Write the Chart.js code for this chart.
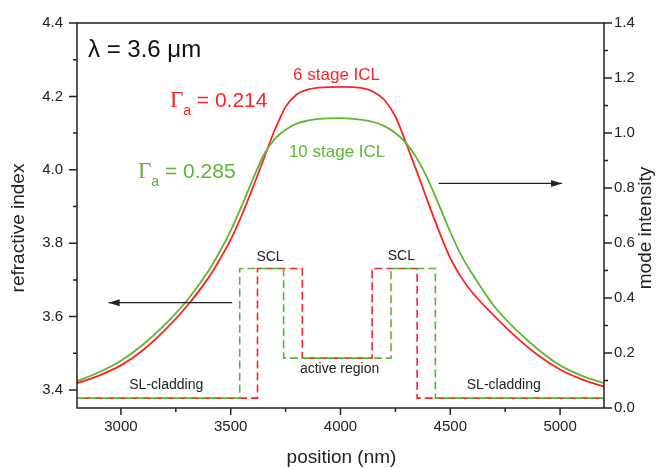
<!DOCTYPE html>
<html lang="en">
<head>
<meta charset="UTF-8"/>
<title>ICL mode profile</title>
<script src="https://cdn.jsdelivr.net/npm/chart.js"></script>
<style>
  html, body { margin: 0; padding: 0; background: #fff; }
  #wrap { width: 662px; height: 468px; }
</style>
</head>
<body>
<div id="wrap"><canvas id="chart" width="662" height="468"></canvas></div>
<script>
// mode intensity (right axis)
const positions = [2800, 2900, 3000, 3100, 3200, 3300, 3400, 3450, 3500, 3550, 3600, 3650, 3700, 3750,
  3800, 3850, 3900, 4000, 4100, 4150, 4200, 4250, 4300, 4350, 4400, 4450, 4500, 4550, 4600,
  4700, 4800, 4900, 5000, 5100, 5200];
const intensity6 = [0.090, 0.118, 0.155, 0.210, 0.283, 0.370, 0.475, 0.540, 0.612, 0.700, 0.800, 0.905, 1.010, 1.095,
  1.140, 1.158, 1.165, 1.168, 1.163, 1.150, 1.120, 1.060, 0.960, 0.855, 0.745, 0.640, 0.545, 0.475, 0.420,
  0.335, 0.258, 0.192, 0.140, 0.104, 0.078];
const intensity10 = [0.097, 0.130, 0.172, 0.230, 0.303, 0.390, 0.500, 0.568, 0.645, 0.735, 0.830, 0.920, 0.978, 1.012,
  1.034, 1.045, 1.051, 1.054, 1.048, 1.040, 1.025, 1.000, 0.962, 0.905, 0.828, 0.735, 0.640, 0.555, 0.488,
  0.370, 0.284, 0.213, 0.155, 0.117, 0.090];

// refractive index profiles (left axis)
const profile6X = [2800, 3622, 3622, 3826, 3826, 4144, 4144, 4349, 4349, 5200];
const profile6N = [3.378, 3.378, 3.731, 3.731, 3.487, 3.487, 3.731, 3.731, 3.378, 3.378];
const profile10X = [2800, 3541, 3541, 3741, 3741, 4230, 4230, 4432, 4432, 5200];
const profile10N = [3.378, 3.378, 3.731, 3.731, 3.487, 3.487, 3.731, 3.731, 3.378, 3.378];

// ticks
const xTicks = [3000, 3500, 4000, 4500, 5000];
const xMinor = [3250, 3750, 4250, 4750];
const nTicks = [3.4, 3.6, 3.8, 4.0, 4.2, 4.4];
const nMinor = [3.5, 3.7, 3.9, 4.1, 4.3];
const iTicks = [0, 0.2, 0.4, 0.6, 0.8, 1.0, 1.2, 1.4];
const iMinor = [0.1, 0.3, 0.5, 0.7, 0.9, 1.1, 1.3];

const RED = '#ff2222';
const GREEN = '#5db533';
const INK = '#222';
const SANS = '"Liberation Sans", Arial, sans-serif';

const pts = (xs, ys) => xs.map((x, i) => ({ x, y: ys[i] }));
const tickFont = { family: SANS, size: 15 };

const overlay = {
  id: 'overlay',
  afterDraw(chart) {
    const { ctx, chartArea: a } = chart;
    const sx = chart.scales.x, sn = chart.scales.y, si = chart.scales.y2;
    ctx.save();
    // frame
    ctx.strokeStyle = INK;
    ctx.lineWidth = 1.5;
    ctx.strokeRect(a.left, a.top, a.right - a.left, a.bottom - a.top);
    // ticks (outward)
    ctx.beginPath();
    const tick = (list, len, fn) => list.forEach(v => fn(v, len));
    const bottomTick = (v, len) => { const p = sx.getPixelForValue(v); ctx.moveTo(p, a.bottom); ctx.lineTo(p, a.bottom + len); };
    const leftTick = (v, len) => { const p = sn.getPixelForValue(v); ctx.moveTo(a.left, p); ctx.lineTo(a.left - len, p); };
    const rightTick = (v, len) => { const p = si.getPixelForValue(v); ctx.moveTo(a.right, p); ctx.lineTo(a.right + len, p); };
    tick(xTicks, 7, bottomTick); tick(xMinor, 4, bottomTick);
    tick(nTicks, 8, leftTick); tick(nMinor, 4, leftTick);
    tick(iTicks, 8, rightTick); tick(iMinor, 4, rightTick);
    ctx.stroke();

    // arrows
    const arrow = (x0, x1, y) => {
      ctx.beginPath();
      ctx.lineWidth = 1.3;
      ctx.moveTo(x0, y); ctx.lineTo(x1, y); ctx.stroke();
      const d = x1 > x0 ? 1 : -1;
      ctx.beginPath();
      ctx.moveTo(x1, y);
      ctx.lineTo(x1 - d * 11, y - 3.5);
      ctx.lineTo(x1 - d * 11, y + 3.5);
      ctx.closePath();
      ctx.fillStyle = INK;
      ctx.fill();
    };
    arrow(sx.getPixelForValue(3507), sx.getPixelForValue(2944), sn.getPixelForValue(3.638));
    arrow(sx.getPixelForValue(4447), sx.getPixelForValue(5009), si.getPixelForValue(0.8166));

    // labels
    const text = (s, xv, nv, size, color, align) => {
      ctx.font = size + 'px ' + SANS;
      ctx.fillStyle = color;
      ctx.textAlign = align || 'left';
      ctx.textBaseline = 'alphabetic';
      ctx.fillText(s, sx.getPixelForValue(xv), sn.getPixelForValue(nv));
    };
    text('λ = 3.6 μm', 2850, 4.3076, 24, '#111');
    text('6 stage ICL', 3784, 4.245, 17, RED);
    text('10 stage ICL', 3765, 4.034, 17, GREEN);
    text('SCL', 3679, 3.7505, 14, INK, 'center');
    text('SCL', 4277, 3.753, 14, INK, 'center');
    text('SL-cladding', 3038, 3.402, 14, INK);
    text('SL-cladding', 4575, 3.403, 14, INK);
    text('active region', 3815, 3.4454, 14, INK);

    const gamma = (val, xv, nv, color) => {
      let x = sx.getPixelForValue(xv);
      const y = sn.getPixelForValue(nv);
      ctx.fillStyle = color;
      ctx.textAlign = 'left';
      ctx.textBaseline = 'alphabetic';
      ctx.font = '23px "Liberation Serif", "Times New Roman", serif';
      ctx.fillText('Γ', x, y);
      x += ctx.measureText('Γ').width;
      ctx.font = '14px ' + SANS;
      ctx.fillText('a', x, y + 8);
      x += ctx.measureText('a').width;
      ctx.font = '21px ' + SANS;
      ctx.fillText(' = ' + val, x, y);
    };
    gamma('0.214', 3223, 4.172, RED);
    gamma('0.285', 3078, 3.979, GREEN);

    // axis titles
    ctx.fillStyle = INK;
    ctx.font = '19px ' + SANS;
    ctx.textAlign = 'center';
    ctx.textBaseline = 'alphabetic';
    ctx.fillText('position (nm)', (a.left + a.right) / 2 + 1, 463);
    ctx.textBaseline = 'middle';
    ctx.translate(19, 228);
    ctx.rotate(-Math.PI / 2);
    ctx.fillText('refractive index', 0, 0);
    ctx.setTransform(1, 0, 0, 1, 0, 0);
    ctx.translate(646, 228);
    ctx.rotate(-Math.PI / 2);
    ctx.fillText('mode intensity', 0, 0);
    ctx.restore();
  }
};

new Chart(document.getElementById('chart'), {
  type: 'line',
  data: {
    datasets: [
      {
        label: '10 stage profile', data: pts(profile10X, profile10N), yAxisID: 'y',
        borderColor: GREEN, borderWidth: 1.6, borderDash: [8, 4], borderDashOffset: 0,
        pointRadius: 0, tension: 0
      },
      {
        label: '6 stage profile', data: pts(profile6X, profile6N), yAxisID: 'y',
        borderColor: RED, borderWidth: 1.6, borderDash: [8, 4], borderDashOffset: 6,
        pointRadius: 0, tension: 0
      },
      {
        label: '10 stage ICL', data: pts(positions, intensity10), yAxisID: 'y2',
        borderColor: GREEN, borderWidth: 1.8, pointRadius: 0, cubicInterpolationMode: 'monotone'
      },
      {
        label: '6 stage ICL', data: pts(positions, intensity6), yAxisID: 'y2',
        borderColor: RED, borderWidth: 1.8, pointRadius: 0, cubicInterpolationMode: 'monotone'
      }
    ]
  },
  options: {
    responsive: false,
    animation: false,
    devicePixelRatio: 1,
    layout: { padding: { top: 22, left: 0, right: 0, bottom: 0 } },
    plugins: { legend: { display: false }, tooltip: { enabled: false } },
    scales: {
      x: {
        type: 'linear', min: 2800, max: 5200,
        afterBuildTicks: s => { s.ticks = xTicks.map(v => ({ value: v })); },
        afterFit: s => { s.height = 60; },
        ticks: { font: tickFont, color: INK, padding: 10, maxRotation: 0, callback: v => String(v) },
        grid: { display: false, drawTicks: false },
        border: { display: false }
      },
      y: {
        type: 'linear', position: 'left', min: 3.351, max: 4.4,
        afterBuildTicks: s => { s.ticks = nTicks.map(v => ({ value: v })); },
        afterFit: s => { s.width = 77; },
        ticks: { font: tickFont, color: INK, padding: 14, callback: v => v.toFixed(1) },
        grid: { display: false, drawTicks: false },
        border: { display: false }
      },
      y2: {
        type: 'linear', position: 'right', min: 0, max: 1.4,
        afterBuildTicks: s => { s.ticks = iTicks.map(v => ({ value: v })); },
        afterFit: s => { s.width = 58; },
        ticks: { font: tickFont, color: INK, padding: 10, callback: v => v.toFixed(1) },
        grid: { display: false, drawTicks: false },
        border: { display: false }
      }
    }
  },
  plugins: [overlay]
});
</script>
</body>
</html>
